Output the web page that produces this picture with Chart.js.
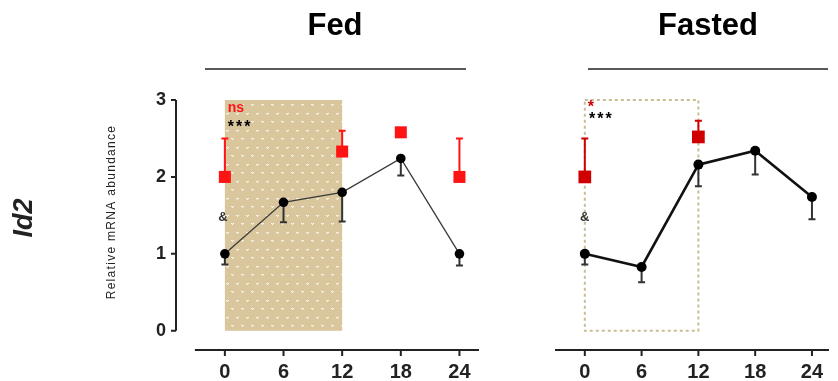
<!DOCTYPE html>
<html>
<head>
<meta charset="utf-8">
<script src="https://cdn.jsdelivr.net/npm/chart.js@4/dist/chart.umd.min.js"></script>
<style>
  html, body { margin: 0; padding: 0; background: #fff; }
  #wrap { position: relative; width: 838px; height: 381px; }
  canvas { position: absolute; top: 0; }
  #fed { left: 0; }
  #fasted { left: 490px; }
</style>
</head>
<body>
<div id="wrap">
  <canvas id="fed" width="490" height="381"></canvas>
  <canvas id="fasted" width="348" height="381"></canvas>
</div>
<script>
// time points (h) and y ticks
const hours = [0, 6, 12, 18, 24];
const yTicks = [0, 1, 2, 3];

// Fed panel: black series (mean, lower SEM) and red series (mean, upper SEM)
const fedMean = [1.0, 1.67, 1.80, 2.24, 1.0];
const fedSem = [0.14, 0.26, 0.38, 0.22, 0.15];
const fedRed = [2.0, null, 2.33, 2.58, 2.0];
const fedRedSem = [0.5, null, 0.27, 0.05, 0.5];

// Fasted panel
const fastedMean = [1.0, 0.83, 2.16, 2.34, 1.74];
const fastedSem = [0.14, 0.20, 0.28, 0.31, 0.29];
const fastedRed = [2.0, null, 2.52, null, null];
const fastedRedSem = [0.5, null, 0.21, null, null];

// shaded / boxed window (h)
const windowHours = [0, 12];

const FONT = '"Liberation Sans", Arial, sans-serif';

function toPoints(vals) {
  return hours.map((h, i) => ({ x: h, y: vals[i] })).filter(p => p.y !== null);
}

function makePattern() {
  const tile = document.createElement('canvas');
  tile.width = 10; tile.height = 17;
  const c = tile.getContext('2d');
  c.fillStyle = 'rgb(217,198,156)';
  c.fillRect(0, 0, 10, 17);
  // small white heart/"v" marks, staggered rows
  [[1, 2], [6, 11]].forEach(([x, y]) => {
    c.fillStyle = 'rgba(255,255,255,0.85)';
    c.fillRect(x, y, 1, 1);
    c.fillRect(x + 2, y, 1, 1);
    c.fillRect(x + 1, y + 1, 1, 1);
    c.fillStyle = 'rgba(255,255,255,0.45)';
    c.fillRect(x + 1, y, 1, 1);
  });
  return tile;
}

function drawErrors(ctx, xs, ys, mean, err, dir, color, lw) {
  ctx.save();
  ctx.strokeStyle = color;
  ctx.lineWidth = lw;
  hours.forEach((h, i) => {
    if (mean[i] === null || err[i] === null) return;
    const px = xs.getPixelForValue(h);
    const y0 = ys.getPixelForValue(mean[i]);
    const y1 = ys.getPixelForValue(mean[i] + dir * err[i]);
    ctx.beginPath();
    ctx.moveTo(px, y0);
    ctx.lineTo(px, y1);
    ctx.moveTo(px - 3.5, y1);
    ctx.lineTo(px + 3.5, y1);
    ctx.stroke();
  });
  ctx.restore();
}

function panelPlugin(cfg) {
  return {
    id: 'panel_' + cfg.name,
    beforeDatasetsDraw(chart) {
      const ctx = chart.ctx;
      const xs = chart.scales.x, ys = chart.scales.y;
      const x0 = xs.getPixelForValue(windowHours[0]);
      const x1 = xs.getPixelForValue(windowHours[1]);
      const yTop = ys.getPixelForValue(3);
      const yBot = ys.getPixelForValue(0);
      ctx.save();
      if (cfg.shaded) {
        ctx.fillStyle = ctx.createPattern(makePattern(), 'repeat');
        ctx.fillRect(x0, yTop, x1 - x0, yBot - yTop);
      } else {
        ctx.strokeStyle = 'rgb(201,189,146)';
        ctx.lineWidth = 2;
        ctx.setLineDash([3, 3]);
        ctx.strokeRect(x0, yTop, x1 - x0, yBot - yTop);
      }
      ctx.restore();
      drawErrors(ctx, xs, ys, cfg.red, cfg.redSem, 1, cfg.redColor, 2);
      drawErrors(ctx, xs, ys, cfg.mean, cfg.sem, -1, '#333', 2);
    },
    afterDraw(chart) {
      const ctx = chart.ctx;
      const xs = chart.scales.x, ys = chart.scales.y;
      const area = chart.chartArea;
      ctx.save();
      ctx.strokeStyle = '#222';
      ctx.lineWidth = 2;

      // x axis with small ticks
      ctx.beginPath();
      ctx.moveTo(xs.getPixelForValue(cfg.xAxisFrom), area.bottom);
      ctx.lineTo(area.right, area.bottom);
      hours.forEach(h => {
        const px = xs.getPixelForValue(h);
        ctx.moveTo(px, area.bottom);
        ctx.lineTo(px, area.bottom + 6);
      });
      ctx.stroke();

      // y axis spanning 0..3
      if (cfg.yAxis) {
        ctx.beginPath();
        ctx.moveTo(area.left, ys.getPixelForValue(0));
        ctx.lineTo(area.left, ys.getPixelForValue(3));
        yTicks.forEach(v => {
          const py = ys.getPixelForValue(v);
          ctx.moveTo(area.left, py);
          ctx.lineTo(area.left - 5, py);
        });
        ctx.stroke();

        ctx.fillStyle = '#222';
        ctx.textAlign = 'center';
        ctx.textBaseline = 'middle';
        ctx.save();
        ctx.translate(112, 212);
        ctx.rotate(-Math.PI / 2);
        ctx.font = '12px ' + FONT;
        if ('letterSpacing' in ctx) ctx.letterSpacing = '1.3px';
        ctx.fillText('Relative mRNA abundance', 0, 0);
        ctx.restore();

        ctx.save();
        ctx.translate(25, 218);
        ctx.rotate(-Math.PI / 2);
        ctx.font = 'italic bold 27px ' + FONT;
        ctx.fillText('Id2', 0, 0);
        ctx.restore();
      }

      // panel title and rule
      ctx.fillStyle = '#000';
      ctx.font = 'bold 31px ' + FONT;
      ctx.textAlign = 'center';
      ctx.textBaseline = 'middle';
      ctx.fillText(cfg.title, cfg.titleX, 26);
      ctx.lineWidth = 1.5;
      ctx.beginPath();
      ctx.moveTo(cfg.ruleFrom, 69);
      ctx.lineTo(cfg.ruleTo, 69);
      ctx.stroke();

      // significance marks
      cfg.marks.forEach(m => {
        ctx.fillStyle = m.color;
        ctx.font = 'bold ' + m.size + 'px ' + FONT;
        ctx.textAlign = m.align || 'left';
        if ('letterSpacing' in ctx) ctx.letterSpacing = (m.spacing || 0) + 'px';
        ctx.fillText(m.text, xs.getPixelForValue(m.x), ys.getPixelForValue(m.y));
      });
      ctx.restore();
    }
  };
}

function makePanel(id, cfg) {
  const tickFont = { family: FONT, weight: 'bold' };
  return new Chart(document.getElementById(id), {
    type: 'scatter',
    data: {
      datasets: [
        {
          label: 'black',
          data: toPoints(cfg.mean),
          showLine: true,
          borderColor: cfg.lineColor,
          borderWidth: cfg.lineWidth,
          pointStyle: 'circle',
          pointRadius: cfg.dotRadius,
          pointBackgroundColor: '#000',
          pointBorderColor: '#000',
          pointBorderWidth: 0,
          order: 1
        },
        {
          label: 'red',
          data: toPoints(cfg.red),
          showLine: false,
          pointStyle: 'rect',
          pointRadius: cfg.squareRadius,
          pointBackgroundColor: cfg.redColor,
          pointBorderColor: cfg.redColor,
          pointBorderWidth: 0,
          order: 0
        }
      ]
    },
    options: {
      responsive: false,
      animation: false,
      layout: { padding: cfg.padding },
      plugins: { legend: { display: false }, tooltip: { enabled: false } },
      scales: {
        x: {
          type: 'linear',
          min: cfg.xMin,
          max: cfg.xMax,
          afterBuildTicks: s => { s.ticks = hours.map(v => ({ value: v })); },
          afterFit: s => { s.height = 31; },
          grid: { display: false, drawTicks: false },
          border: { display: false },
          ticks: { padding: 10, color: '#222', font: Object.assign({ size: 20 }, tickFont), autoSkip: false, maxRotation: 0 }
        },
        y: {
          type: 'linear',
          min: -0.25,
          max: 3,
          display: cfg.yAxis,
          afterBuildTicks: s => { s.ticks = yTicks.map(v => ({ value: v })); },
          afterFit: s => { if (cfg.yAxis) s.width = 176; },
          grid: { display: false, drawTicks: false },
          border: { display: false },
          ticks: { padding: 10, color: '#222', font: Object.assign({ size: 18 }, tickFont) }
        }
      }
    },
    plugins: [panelPlugin(cfg)]
  });
}

makePanel('fed', {
  name: 'fed',
  title: 'Fed', titleX: 335, ruleFrom: 205, ruleTo: 466,
  mean: fedMean, sem: fedSem, red: fedRed, redSem: fedRedSem,
  redColor: '#ff1414', lineColor: '#3a3a3a', lineWidth: 1.3, dotRadius: 4.8, squareRadius: 8.5,
  shaded: true, yAxis: true,
  xMin: -5, xMax: 26, xAxisFrom: -3.07,
  padding: { top: 100, right: 11, bottom: 0, left: 0 },
  marks: [
    { text: 'ns', x: 0.3, y: 2.9, color: '#ff1414', size: 14 },
    { text: '***', x: 0.3, y: 2.64, color: '#000', size: 16, spacing: 2 },
    { text: '&', x: -0.2, y: 1.47, color: '#333', size: 13, align: 'center' }
  ]
});

makePanel('fasted', {
  name: 'fasted',
  title: 'Fasted', titleX: 218, ruleFrom: 98, ruleTo: 338,
  mean: fastedMean, sem: fastedSem, red: fastedRed, redSem: fastedRedSem,
  redColor: '#d00000', lineColor: '#111', lineWidth: 2.6, dotRadius: 5, squareRadius: 9,
  shaded: false, yAxis: false,
  xMin: -3.15, xMax: 25.8, xAxisFrom: -3.15,
  padding: { top: 100, right: 0, bottom: 0, left: 65 },
  marks: [
    { text: '*', x: 0.65, y: 2.9, color: '#d00000', size: 16, align: 'center' },
    { text: '***', x: 0.45, y: 2.75, color: '#000', size: 16, spacing: 2 },
    { text: '&', x: 0, y: 1.48, color: '#333', size: 13, align: 'center' }
  ]
});
</script>
</body>
</html>
